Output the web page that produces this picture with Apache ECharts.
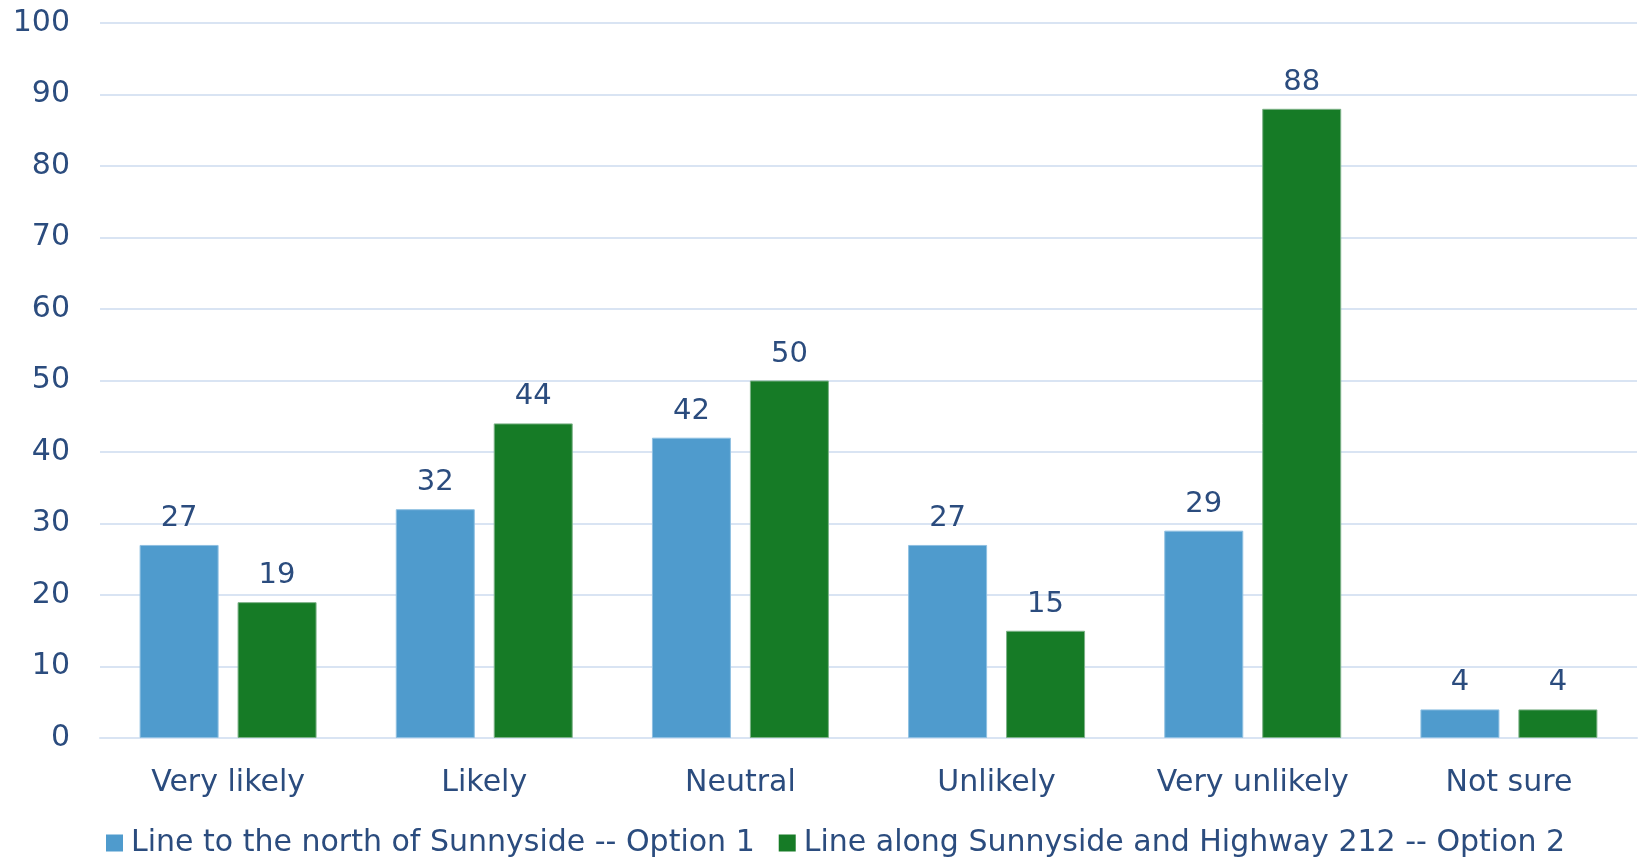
<!DOCTYPE html>
<html>
<head>
<meta charset="utf-8">
<style>
  html, body { margin: 0; padding: 0; background: #ffffff; }
  #chart { width: 1647px; height: 860px; }
</style>
<script src="https://cdn.jsdelivr.net/npm/echarts@6/dist/echarts.min.js"></script>
</head>
<body>
<div id="chart"></div>
<script>
// Survey responses by likelihood, for the two proposed line routes
const categories = ['Very likely', 'Likely', 'Neutral', 'Unlikely', 'Very unlikely', 'Not sure'];
const option1Name = 'Line to the north of Sunnyside -- Option 1';
const option2Name = 'Line along Sunnyside and Highway 212 -- Option 2';
const option1Values = [27, 32, 42, 27, 29, 4];
const option2Values = [19, 44, 50, 15, 88, 4];

const textColor = '#2B4C7E';
const fontFamily = '"DejaVu Sans", sans-serif';

const chart = echarts.init(document.getElementById('chart'));

const barLabel = {
  show: true,
  position: 'top',
  distance: 12,
  color: textColor,
  fontFamily: fontFamily,
  fontSize: 29
};

chart.setOption({
  animation: false,
  grid: { left: 100, right: 10, top: 23, bottom: 122, containLabel: false },
  legend: {
    left: 106,
    top: 828,
    padding: 0,
    itemWidth: 17,
    itemHeight: 17,
    itemGap: 24,
    icon: 'rect',
    itemStyle: { borderWidth: 0 },
    textStyle: { color: textColor, fontFamily: fontFamily, fontSize: 30, lineHeight: 28, padding: [0, 0, 0, 3] },
    data: [option1Name, option2Name]
  },
  xAxis: {
    type: 'category',
    data: categories,
    axisTick: { show: false },
    axisLine: { show: true, lineStyle: { color: '#D9E4F3', width: 2 } },
    axisLabel: { color: textColor, fontFamily: fontFamily, fontSize: 30, margin: 30 }
  },
  yAxis: {
    type: 'value',
    min: 0,
    max: 100,
    interval: 10,
    axisLine: { show: false },
    axisTick: { show: false },
    splitLine: { lineStyle: { color: '#D9E4F3', width: 2 } },
    axisLabel: { color: textColor, fontFamily: fontFamily, fontSize: 30, margin: 30 }
  },
  series: [
    {
      name: option1Name,
      type: 'bar',
      data: option1Values,
      barWidth: 79,
      barGap: '24%',
      itemStyle: { color: '#4F9BCD', borderColor: '#8FC0E2', borderWidth: 1 },
      label: barLabel
    },
    {
      name: option2Name,
      type: 'bar',
      data: option2Values,
      barWidth: 79,
      itemStyle: { color: '#167B26', borderColor: '#7DB288', borderWidth: 1 },
      label: barLabel
    }
  ]
});
</script>
</body>
</html>
